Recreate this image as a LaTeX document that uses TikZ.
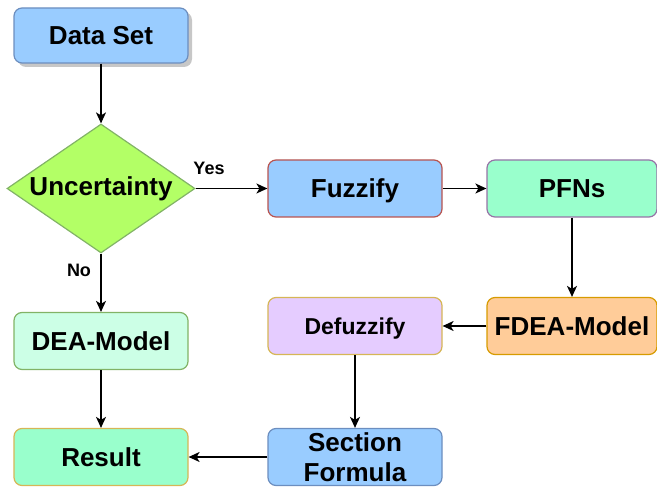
\documentclass[tikz,border=0pt]{standalone}
\usepackage{fontspec}
\setmainfont{Liberation Sans}
\usetikzlibrary{shapes.geometric,arrows.meta}

\definecolor{blueFill}{HTML}{99CCFF}
\definecolor{blueLine}{HTML}{6C8EBF}
\definecolor{redLine}{HTML}{B85450}
\definecolor{greenFill}{HTML}{B3FF66}
\definecolor{greenLine}{HTML}{82B366}
\definecolor{mintFill}{HTML}{99FFCC}
\definecolor{paleMint}{HTML}{CCFFE6}
\definecolor{purpleLine}{HTML}{9673A6}
\definecolor{orangeFill}{HTML}{FFCC99}
\definecolor{orangeLine}{HTML}{D79B00}
\definecolor{lilacFill}{HTML}{E5CCFF}
\definecolor{goldLine}{HTML}{D6B656}

\tikzset{
  box/.style={rectangle, rounded corners=8pt, draw, line width=1.2pt,
    minimum width=174pt, minimum height=57pt, inner sep=0pt, text depth=0pt,
    align=center, font=\fontsize{26}{30}\selectfont\bfseries},
  decision/.style={diamond, aspect=1.457, draw=greenLine, fill=greenFill, line width=1.2pt,
    minimum width=188pt, minimum height=129pt, inner sep=0pt,
    font=\fontsize{26}{30}\selectfont\bfseries},
  flow/.style={draw=black, line width=1.4pt,
    -{Stealth[length=11pt,width=10pt,inset=3pt]}},
  tag/.style={font=\fontsize{18}{20}\selectfont\bfseries}
}

\begin{document}
\begin{tikzpicture}[x=1pt,y=-1pt]
  \useasboundingbox (0,0) rectangle (657,492);

  % soft shadow behind the first box
  \fill[black!22, rounded corners=8pt] (18,12) rectangle (192,67);
  \node[box, draw=blueLine, fill=blueFill, minimum height=55pt] (data) at (101,35.5) {Data Set};

  \node[decision] (unc) at (101,188.5) {Uncertainty};

  \node[box, draw=redLine, fill=blueFill] (fuzz) at (355,188.5) {Fuzzify};
  \node[box, draw=purpleLine, fill=mintFill, minimum width=170pt] (pfn) at (572,188.5) {PFNs};

  \node[box, draw=orangeLine, fill=orangeFill, minimum width=170pt] (fdea) at (572,326) {FDEA-Model};
  \node[box, draw=goldLine, fill=lilacFill, font=\fontsize{23}{27}\selectfont\bfseries] (defz) at (355,326) {Defuzzify};

  \node[box, draw=greenLine, fill=paleMint] (dea) at (101,341) {DEA-Model};
  \node[box, draw=goldLine, fill=mintFill] (res) at (101,457) {Result};
  \node[box, draw=blueLine, fill=blueFill] (sec) at (355,457) {Section\\Formula};

  \draw[flow] (data) -- (unc);
  \draw[flow] (unc.east) -- (fuzz.west);
  \draw[flow] (fuzz) -- (pfn);
  \draw[flow] (pfn) -- (fdea);
  \draw[flow] (fdea) -- (defz);
  \draw[flow] (defz) -- (sec);
  \draw[flow] (sec) -- (res);
  \draw[flow] (unc.south) -- (dea.north);
  \draw[flow] (dea) -- (res);

  \node[tag] (yes) at (209,168) {Yes};
  \node[tag] (no) at (79,270) {No};
\end{tikzpicture}
\end{document}
